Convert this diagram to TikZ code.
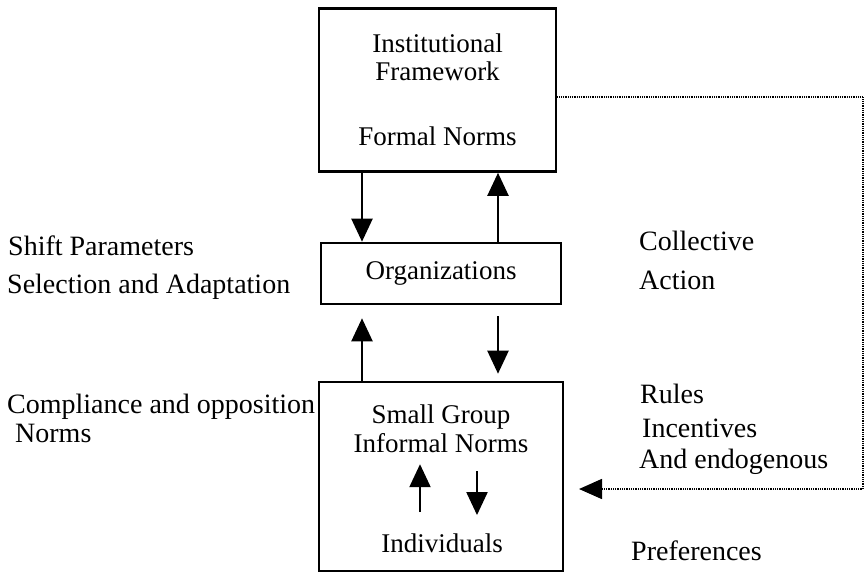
\documentclass[tikz,border=0pt]{standalone}
\usepackage{fontspec}
\setmainfont{Liberation Serif}
\usetikzlibrary{arrows.meta}

\begin{document}
\begin{tikzpicture} [x = 1pt, y = -1pt,
  box/.style = {draw, line width = 2.6pt, inner sep = 0pt, align = center, font = \fontsize{27}{28}\selectfont},
  txt/.style = {inner sep = 0pt, align = center, font = \fontsize{27}{29}\selectfont},
  lbl/.style = {inner sep = 0pt, anchor = base west, font = \fontsize{28}{30}\selectfont},
  arr/.style = {line width = 2.2pt, -{Triangle[length = 23pt, width = 21pt]}},
  dots/.style = {line width = 1.6pt, dash pattern = on 1pt off 0.8pt, -{Triangle[length = 23pt, width = 20pt]}}]
\useasboundingbox (0,0) rectangle (867,574);
\node[box, minimum width = 237pt, minimum height = 163pt] (frame) at (437.5,90) {Institutional\\Framework\\[37pt]Formal Norms};
\node[box, minimum width = 240pt, minimum height = 61pt] (org) at (441,273.5) {Organizations};
\node[box, minimum width = 244pt, minimum height = 189pt] (grpbox) at (441,476.5) {};
\node[txt] (grp) at (441,429) {Small Group\\Informal Norms};
\node[txt, anchor = base] (indiv) at (442,552) {Individuals};
\coordinate (lft) at (362,0);
\coordinate (rgt) at (498,0);
\coordinate (iup) at (420,0);
\coordinate (idn) at (477,0);
\coordinate (corner) at (863,489);
\coordinate (tip) at (579,489);
\draw[arr] (frame.south -| lft) -- (org.north -| lft);
\draw[arr] (org.north -| rgt) -- (frame.south -| rgt);
\draw[arr, shorten >= 13pt] (grpbox.north -| lft) -- (org.south -| lft);
\draw[arr, shorten <= 11pt, shorten >= 7pt] (org.south -| rgt) -- (grpbox.north -| rgt);
\draw[arr, shorten <= 21pt, shorten >= 11pt] (indiv.north -| iup) -- (grp.south -| iup);
\draw[arr, shorten <= 18pt, shorten >= 18pt] (grp.south -| idn) -- (indiv.north -| idn);
\draw[dots] ([yshift = -7pt]frame.east) -| (corner) -- (tip);
\node[lbl] (shift) at (8,255) {Shift Parameters};
\node[lbl] (select) at (7,293) {Selection and Adaptation};
\node[lbl] (comply) at (7,413) {Compliance and opposition};
\node[lbl] (norms) at (15,442) {Norms};
\node[lbl] (collect) at (639,250) {Collective};
\node[lbl] (action) at (639,289) {Action};
\node[lbl] (rules) at (640,403) {Rules};
\node[lbl] (incent) at (642,437) {Incentives};
\node[lbl] (endog) at (639,468) {And endogenous};
\node[lbl] (prefs) at (631,560) {Preferences};
\end{tikzpicture}
\end{document}
